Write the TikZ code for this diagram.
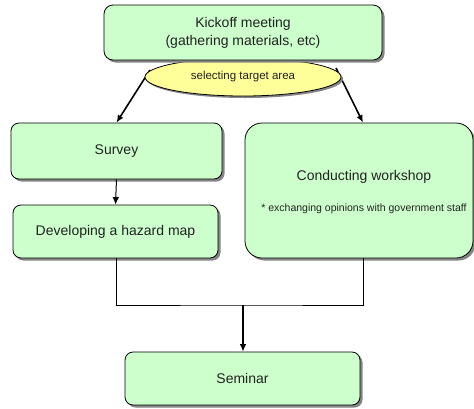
\documentclass[tikz,border=0pt]{standalone}
\usepackage{fontspec}
\setmainfont{Liberation Sans}
\usetikzlibrary{shadows,arrows.meta,shapes.geometric}
\definecolor{boxgreen}{HTML}{CCFFCC}
\definecolor{ellyellow}{HTML}{FFFF99}
\definecolor{shadowgray}{HTML}{858585}
\definecolor{txtcol}{HTML}{222222}
\begin{document}
\begin{tikzpicture}[x=1pt,y=-1pt,
  box/.style={draw=black, line width=0.8pt, fill=boxgreen, rounded corners=8pt,
    drop shadow={shadow xshift=2.5pt, shadow yshift=-2.5pt, fill=shadowgray, opacity=1},
    align=center, inner sep=0pt, text=txtcol, font=\fontsize{14}{18}\selectfont},
  sel/.style={draw=black, line width=0.8pt, fill=ellyellow, ellipse, inner sep=0pt,
    drop shadow={shadow xshift=2pt, shadow yshift=-2pt, fill=shadowgray, opacity=1},
    text=txtcol, font=\fontsize{11.5}{13}\selectfont},
  txt/.style={inner sep=0pt, text=txtcol},
  thick arrow/.style={line width=1.6pt, -{Latex[length=7.5pt,width=6.5pt]}},
  thin arrow/.style={line width=1pt, -{Latex[length=7.5pt,width=6.5pt]}},
  conn/.style={line width=1pt}
]
\useasboundingbox (0,0) rectangle (474,408);
\fill[white] (0,0) rectangle (474,408);

% arrows from the ellipse (drawn first, ellipse covers their start)
\coordinate (sl) at (150,70);
\coordinate (sr) at (336,68);
\node[box, minimum width=211pt, minimum height=56pt] (survey) at (116.5,151) {Survey};
\node[box, minimum width=228pt, minimum height=135pt, rounded corners=17pt] (workshop) at (359,190.5) {};
\draw[thick arrow] (sl) -- (survey.north);
\draw[thick arrow] (sr) -- ([xshift=4pt]workshop.north);

\node[sel, minimum width=196pt, minimum height=38pt] (selarea) at (243,77) {selecting target area};
\node[box, minimum width=278pt, minimum height=55pt, rounded corners=9pt] (kickoff) at (243,32.5)
  {Kickoff meeting\\(gathering materials, etc)};

\node[box, minimum width=205pt, minimum height=53pt] (hazard) at (115.5,231.5) {Developing a hazard map};
\node[txt, font=\fontsize{14}{18}\selectfont] (ws1) at (364,177) {Conducting workshop};
\node[txt, font=\fontsize{10.5}{12}\selectfont] (ws2) at (364,209) {* exchanging opinions with government staff};

\node[box, minimum width=235pt, minimum height=53pt] (seminar) at (242.5,378.5) {Seminar};

\draw[thin arrow] (survey.south) -- (hazard.north);
\coordinate (m) at (243,305);
\draw[conn] ([xshift=0.5pt]hazard.south) |- (m) -| ([xshift=4pt]workshop.south);
\draw[thick arrow, line width=1.3pt] (m) -- (m |- seminar.north);
\end{tikzpicture}
\end{document}
